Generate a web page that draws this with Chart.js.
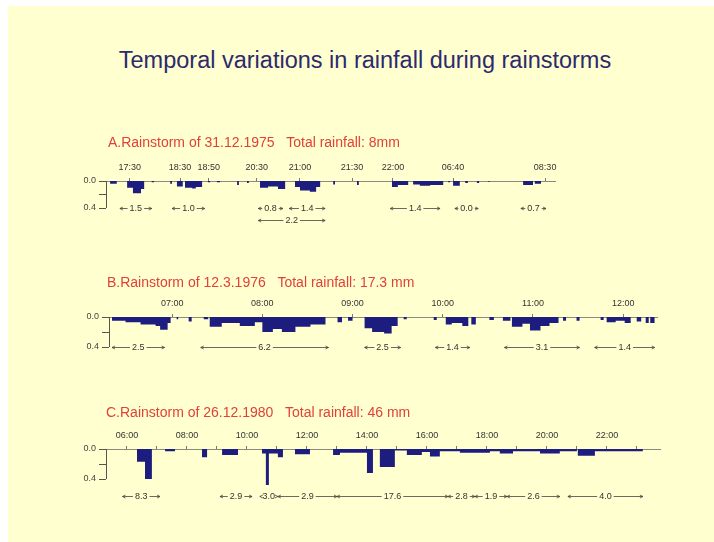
<!DOCTYPE html>
<html>
<head>
<meta charset="utf-8">
<script src="https://cdn.jsdelivr.net/npm/chart.js@4.4.0/dist/chart.umd.min.js"></script>
<style>
  html, body { margin: 0; padding: 0; background: #fff; }
  #slide { position: absolute; left: 8px; top: 6px; width: 706px; height: 536px; background: #ffffcf; }
  #title { position: absolute; left: 0; top: 47px; width: 730px; text-align: center;
           font: 23.5px "Liberation Sans", Arial, sans-serif; color: #2d2a6e; }
  canvas { position: absolute; left: 0; top: 0; }
</style>
</head>
<body>
<div id="slide"></div>
<div id="title">Temporal variations in rainfall during rainstorms</div>
<canvas id="chartA" width="714" height="542"></canvas>
<canvas id="chartB" width="714" height="542"></canvas>
<canvas id="chartC" width="714" height="542"></canvas>

<script>
// Panel A - 31.12.1975. The time axis is broken, so x is the position along the strip (0-100)
const aTicks = [5.3, 16.5, 22.9, 33.6, 43.2, 54.8, 63.9, 77.3, 97.8];
const aTickLabels = ['17:30', '18:30', '18:50', '20:30', '21:00', '21:30', '22:00', '06:40', '08:30'];
const aStart = [0.9, 4.7, 6.0, 7.8, 10.2, 14.3, 15.8, 17.6, 19.2, 20.0, 22.7, 24.7, 29.2, 31.4, 34.3, 36.1, 38.3,
                42.1, 43.2, 45.4, 46.8, 50.6, 55.9, 63.7, 65.0, 68.4, 69.9, 72.2, 76.2, 77.3, 80.0, 82.6, 85.1, 92.9, 95.5];
const aEnd   = [2.4, 6.0, 7.8, 8.5, 10.7, 14.7, 17.1, 19.2, 20.0, 21.4, 23.2, 25.4, 29.6, 31.8, 36.1, 38.3, 39.9,
                43.2, 45.4, 46.8, 47.7, 51.0, 56.3, 65.0, 67.3, 69.9, 72.2, 75.1, 76.6, 78.8, 80.6, 83.1, 85.5, 95.1, 96.9];
const aRain  = [0.04, 0.10, 0.18, 0.12, 0.02, 0.04, 0.08, 0.10, 0.11, 0.09, 0.02, 0.02, 0.06, 0.03, 0.10, 0.08, 0.12,
                0.09, 0.14, 0.16, 0.09, 0.05, 0.06, 0.09, 0.06, 0.05, 0.07, 0.06, 0.02, 0.07, 0.03, 0.03, 0.01, 0.06, 0.04];
const aNoteFrom = [3.1, 14.7, 33.9, 40.8, 33.9, 63.3, 77.7, 92.4];
const aNoteTo   = [10.2, 22.0, 39.4, 48.8, 48.8, 74.4, 82.9, 98.0];
const aNoteText = ['1.5', '1.0', '0.8', '1.4', '2.2', '1.4', '0.0', '0.7'];
const aNoteRow  = [0.4, 0.4, 0.4, 0.4, 0.58, 0.4, 0.4, 0.4];

// Panel B - 12.3.1976, x in minutes after 06:00
const bTicks = [60, 120, 180, 240, 300, 360];
const bTickLabels = ['07:00', '08:00', '09:00', '10:00', '11:00', '12:00'];
const bStart = [20, 29, 39, 49, 52, 57, 63, 71, 81, 85, 93, 105, 115, 120, 127, 133, 142, 152, 170, 177,
                188, 193, 201, 206, 214, 234, 242, 246, 253, 259, 271, 280, 286, 293, 298, 305, 311, 320, 329,
                345, 349, 355, 361, 369, 375, 378];
const bEnd   = [29, 39, 49, 52, 57, 59, 64, 73, 84, 93, 105, 115, 120, 127, 133, 142, 152, 162, 173, 180,
                193, 201, 206, 210, 216, 236, 246, 253, 257, 262, 274, 285, 293, 298, 305, 311, 317, 322, 331,
                347, 355, 361, 365, 372, 377, 381];
const bRain  = [0.05, 0.07, 0.10, 0.12, 0.17, 0.08, 0.03, 0.06, 0.03, 0.13, 0.08, 0.12, 0.07, 0.20, 0.16, 0.20, 0.13, 0.10, 0.07, 0.05,
                0.15, 0.20, 0.22, 0.12, 0.03, 0.04, 0.10, 0.08, 0.12, 0.10, 0.04, 0.05, 0.13, 0.09, 0.18, 0.12, 0.08, 0.05, 0.05,
                0.04, 0.07, 0.05, 0.08, 0.06, 0.08, 0.08];
const bNoteFrom = [20, 79, 188, 235, 281, 341];
const bNoteTo   = [55, 164, 212, 258, 331, 381];
const bNoteText = ['2.5', '6.2', '2.5', '1.4', '3.1', '1.4'];
const bNoteRow  = [0.4, 0.4, 0.4, 0.4, 0.4, 0.4];

// Panel C - 26.12.1980, x in hours
const cTicks = [6, 7, 8, 9, 10, 11, 12, 13, 14, 15, 16, 17, 18, 19, 20, 21, 22, 23];
const cTickLabels = ['06:00', '', '08:00', '', '10:00', '', '12:00', '', '14:00', '', '16:00', '', '18:00', '', '20:00', '', '22:00', ''];
const cStart = [6.33, 6.6, 7.27, 8.5, 9.17, 10.5, 10.63, 10.73, 11.03, 11.6, 12.87, 13.1, 14.0, 14.43, 14.93, 15.33,
                15.83, 16.1, 16.43, 17.1, 18.1, 18.43, 18.87, 19.77, 20.43, 21.03, 21.6];
const cEnd   = [6.6, 6.83, 7.6, 8.67, 9.7, 10.63, 10.73, 11.03, 11.2, 12.1, 13.1, 14.0, 14.2, 14.93, 15.33, 15.83,
                16.1, 16.43, 17.1, 18.1, 18.43, 18.87, 19.77, 20.43, 21.0, 21.6, 23.2];
const cRain  = [0.17, 0.40, 0.03, 0.11, 0.08, 0.06, 0.48, 0.06, 0.11, 0.07, 0.08, 0.05, 0.32, 0.24, 0.02, 0.08,
                0.04, 0.10, 0.03, 0.05, 0.03, 0.06, 0.03, 0.06, 0.03, 0.09, 0.03];
const cNoteFrom = [5.85, 9.1, 10.43, 11.03, 13.0, 16.7, 17.6, 18.67, 20.7];
const cNoteTo   = [7.1, 10.17, 11.03, 13.0, 16.7, 17.6, 18.67, 20.43, 23.2];
const cNoteText = ['8.3', '2.9', '3.0', '2.9', '17.6', '2.8', '1.9', '2.6', '4.0'];
const cNoteRow  = [0.63, 0.63, 0.63, 0.63, 0.63, 0.63, 0.63, 0.63, 0.63];

const FONT = '"Liberation Sans", Arial, sans-serif';
const Y_W = 34, X_H = 24;

// stepped outline: each shower holds its depth from start to end, then back to 0
function steps(start, end, rain) {
    const pts = [];
    start.forEach((s, i) => {
        pts.push({x: s, y: rain[i]});
        pts.push({x: end[i], y: 0});
    });
    return pts;
}

const panelDecor = {
    id: 'panelDecor',
    afterDraw(chart) {
        const o = chart.options.plugins.panelDecor;
        const {ctx, chartArea} = chart;
        const xs = chart.scales.x, ys = chart.scales.y;
        ctx.save();

        ctx.fillStyle = '#e2403a';
        ctx.font = '14px ' + FONT;
        ctx.textBaseline = 'middle';
        ctx.fillText(o.heading, o.headX, o.headY);

        // y axis only runs 0.0 - 0.4
        ctx.strokeStyle = '#555';
        ctx.lineWidth = 1;
        ctx.beginPath();
        ctx.moveTo(chartArea.left + 0.5, ys.getPixelForValue(0));
        ctx.lineTo(chartArea.left + 0.5, ys.getPixelForValue(0.4));
        ctx.stroke();

        // interval totals with arrows
        ctx.font = '9px ' + FONT;
        ctx.textAlign = 'center';
        ctx.fillStyle = '#333';
        ctx.strokeStyle = '#444';
        ctx.lineWidth = 0.8;
        o.from.forEach((f, i) => {
            const x1 = xs.getPixelForValue(f);
            const x2 = xs.getPixelForValue(o.to[i]);
            const y = Math.round(ys.getPixelForValue(o.row[i])) + 0.5;
            const mid = (x1 + x2) / 2;
            const w = ctx.measureText(o.text[i]).width / 2 + 2;
            ctx.fillText(o.text[i], mid, y);
            ctx.beginPath();
            if (mid - w > x1) { ctx.moveTo(x1, y); ctx.lineTo(mid - w, y); }
            if (x2 > mid + w) { ctx.moveTo(mid + w, y); ctx.lineTo(x2, y); }
            ctx.moveTo(x1 + 3, y - 1.5); ctx.lineTo(x1, y); ctx.lineTo(x1 + 3, y + 1.5);
            ctx.moveTo(x2 - 3, y - 1.5); ctx.lineTo(x2, y); ctx.lineTo(x2 - 3, y + 1.5);
            ctx.stroke();
        });
        ctx.restore();
    }
};

function makePanel(id, p) {
    return new Chart(document.getElementById(id), {
        type: 'line',
        data: {
            datasets: [{
                data: steps(p.start, p.end, p.rain),
                stepped: true,
                fill: 'origin',
                backgroundColor: '#1d1d80',
                borderWidth: 0,
                pointRadius: 0
            }]
        },
        options: {
            responsive: false,
            animation: false,
            events: [],
            layout: {
                padding: {
                    left: p.left - Y_W,
                    top: p.axisY - X_H,
                    right: 714 - p.right,
                    bottom: 542 - (p.axisY + p.span * 1.25)
                }
            },
            scales: {
                x: {
                    type: 'linear',
                    position: 'top',
                    min: p.min,
                    max: p.max,
                    afterFit: s => { s.height = X_H; },
                    afterBuildTicks: s => { s.ticks = p.ticks.map(v => ({value: v})); },
                    border: {display: true, color: '#8a8a80', width: 1},
                    grid: {drawOnChartArea: false, drawTicks: true, tickLength: 3, color: '#777'},
                    ticks: {
                        autoSkip: false, maxRotation: 0, padding: 5,
                        color: '#333', font: {family: FONT, size: 9},
                        callback: (v, i) => p.labels[i]
                    }
                },
                y: {
                    type: 'linear',
                    reverse: true,
                    min: 0,
                    max: 0.5,
                    afterFit: s => { s.width = Y_W; },
                    afterBuildTicks: s => { s.ticks = [0, 0.2, 0.4].map(v => ({value: v})); },
                    border: {display: false},
                    grid: {drawOnChartArea: false, drawTicks: true, tickLength: 7, color: '#555'},
                    ticks: {
                        padding: 3, color: '#444', font: {family: FONT, size: 9},
                        callback: v => (v === 0.2 ? '' : v.toFixed(1))
                    }
                }
            },
            plugins: {
                legend: {display: false},
                tooltip: {enabled: false},
                panelDecor: {
                    heading: p.heading, headX: p.headX, headY: p.headY,
                    from: p.noteFrom, to: p.noteTo, text: p.noteText, row: p.noteRow
                }
            }
        },
        plugins: [panelDecor]
    });
}

makePanel('chartA', {
    start: aStart, end: aEnd, rain: aRain, ticks: aTicks, labels: aTickLabels,
    noteFrom: aNoteFrom, noteTo: aNoteTo, noteText: aNoteText, noteRow: aNoteRow,
    min: 0, max: 100, left: 106, right: 555, axisY: 181, span: 27,
    heading: 'A.Rainstorm of 31.12.1975   Total rainfall: 8mm', headX: 108, headY: 143
});
makePanel('chartB', {
    start: bStart, end: bEnd, rain: bRain, ticks: bTicks, labels: bTickLabels,
    noteFrom: bNoteFrom, noteTo: bNoteTo, noteText: bNoteText, noteRow: bNoteRow,
    min: 18, max: 382.5, left: 109, right: 657, axisY: 317, span: 30,
    heading: 'B.Rainstorm of 12.3.1976   Total rainfall: 17.3 mm', headX: 107, headY: 283
});
makePanel('chartC', {
    start: cStart, end: cEnd, rain: cRain, ticks: cTicks, labels: cTickLabels,
    noteFrom: cNoteFrom, noteTo: cNoteTo, noteText: cNoteText, noteRow: cNoteRow,
    min: 5.3, max: 23.77, left: 106, right: 660, axisY: 449, span: 30,
    heading: 'C.Rainstorm of 26.12.1980   Total rainfall: 46 mm', headX: 106, headY: 413
});
</script>
</body>
</html>
